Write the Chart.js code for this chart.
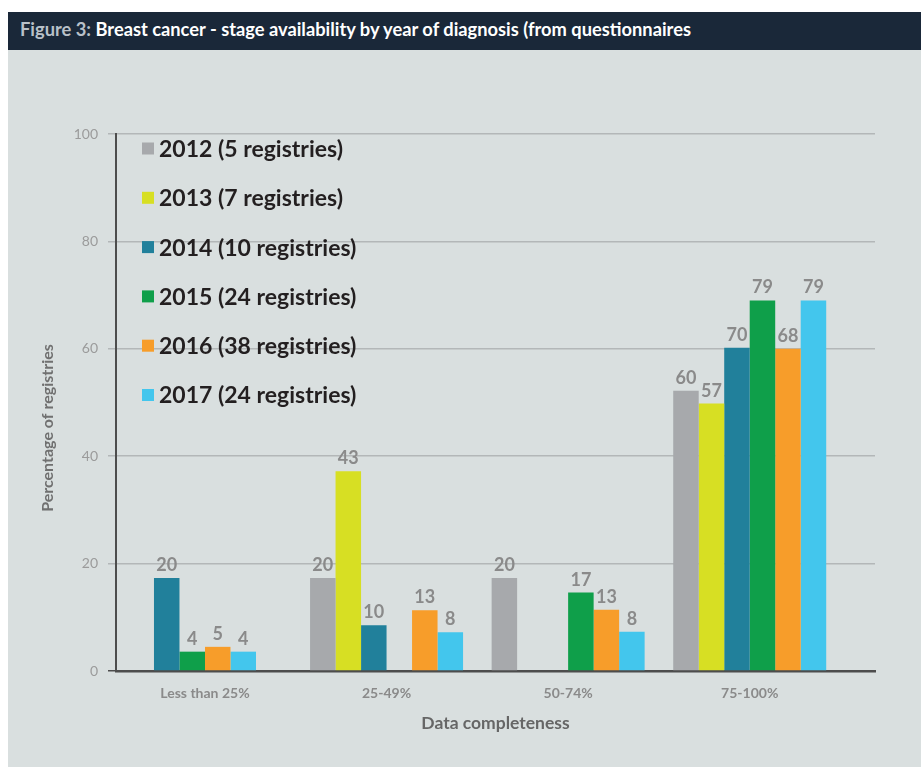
<!DOCTYPE html>
<html>
<head>
<meta charset="utf-8">
<title>Breast cancer - stage availability by year of diagnosis</title>
<script src="https://cdn.jsdelivr.net/npm/chart.js@4.4.1/dist/chart.umd.min.js"></script>
<style>
  body { margin: 0; background: #fff; font-family: Lato, sans-serif; }
  .panel { position: absolute; left: 8px; top: 12px; width: 913px; }
  .head { height: 38px; background: #1a2839; color: #fff; font-weight: bold; font-size: 18.3px; line-height: 34px; padding-left: 12px; white-space: nowrap; overflow: hidden; }
  .head span { color: #b9c1c9; }
  .body { position: relative; height: 717px; background: #d9dfdf; }
</style>
</head>
<body>
<div class="panel">
  <div class="head"><span>Figure 3:</span> Breast cancer - stage availability by year of diagnosis (from questionnaires</div>
  <div class="body"><canvas id="stageChart" width="913" height="717"></canvas></div>
</div>
<script>
const categories = ['Less than 25%', '25-49%', '50-74%', '75-100%'];
const years = ['2012', '2013', '2014', '2015', '2016', '2017'];
const registries = [5, 7, 10, 24, 38, 24];
const colors = ['#a7a9ac', '#d7df23', '#21809b', '#0f9f4a', '#f79d2a', '#43c6ed'];

// bar heights as drawn in the figure (null = no bar, the group closes up)
const bars2012 = [null, 17.3, 17.3, 52.2];
const bars2013 = [null, 37.2, 0, 49.8];
const bars2014 = [17.3, 8.5, 0, 60.2];
const bars2015 = [3.6, 0, 14.6, 69.0];
const bars2016 = [4.5, 11.3, 11.4, 60.0];
const bars2017 = [3.6, 7.2, 7.3, 69.0];

// numbers printed above the bars
const nums2012 = [null, 20, 20, 60];
const nums2013 = [null, 43, null, 57];
const nums2014 = [20, 10, null, 70];
const nums2015 = [4, null, 17, 79];
const nums2016 = [5, 13, 13, 68];
const nums2017 = [4, 8, 8, 79];

const allBars = [bars2012, bars2013, bars2014, bars2015, bars2016, bars2017];
const allNums = [nums2012, nums2013, nums2014, nums2015, nums2016, nums2017];

Chart.defaults.font.family = 'Lato, sans-serif';

// numbers above bars
const barNumbers = {
    id: 'barNumbers',
    afterDatasetsDraw(chart) {
        const ctx = chart.ctx;
        ctx.save();
        ctx.font = 'bold 18px Lato';
        ctx.fillStyle = '#8a8a8a';
        ctx.textAlign = 'center';
        ctx.textBaseline = 'alphabetic';
        chart.data.datasets.forEach((ds, i) => {
            chart.getDatasetMeta(i).data.forEach((bar, j) => {
                const n = allNums[i][j];
                if (n == null) return;
                ctx.fillText(n, bar.x, bar.y - 7);
            });
        });
        ctx.restore();
    }
};

// legend inside the plot, top left
const innerLegend = {
    id: 'innerLegend',
    afterDraw(chart) {
        const { ctx, chartArea } = chart;
        ctx.save();
        ctx.font = 'bold 23px Lato';
        ctx.textBaseline = 'middle';
        chart.data.datasets.forEach((ds, i) => {
            const y = chartArea.top + 14.5 + i * 49.3;
            ctx.fillStyle = ds.backgroundColor;
            ctx.fillRect(chartArea.left + 26, y - 6, 12, 12);
            ctx.fillStyle = '#231f20';
            ctx.fillText(ds.label, chartArea.left + 43, y + 1);
        });
        ctx.restore();
    }
};

// y axis title, sits a bit below the middle of the axis
const yTitle = {
    id: 'yTitle',
    afterDraw(chart) {
        const ctx = chart.ctx;
        ctx.save();
        ctx.translate(40, 378);
        ctx.rotate(-Math.PI / 2);
        ctx.font = 'bold 16px Lato';
        ctx.fillStyle = '#707070';
        ctx.textAlign = 'center';
        ctx.textBaseline = 'middle';
        ctx.fillText('Percentage of registries', 0, 0);
        ctx.restore();
    }
};

new Chart(document.getElementById('stageChart'), {
    type: 'bar',
    data: {
        labels: categories.map((c, i) => i + 1),
        datasets: years.map((y, i) => ({
            label: y + ' (' + registries[i] + ' registries)',
            data: allBars[i],
            backgroundColor: colors[i],
            borderWidth: 0,
            inflateAmount: 0,
            barThickness: 25.5,
            skipNull: true
        }))
    },
    options: {
        responsive: false,
        animation: false,
        layout: { padding: { top: 84, right: 46, left: 0, bottom: 0 } },
        plugins: {
            legend: { display: false },
            tooltip: { enabled: false }
        },
        scales: {
            x: {
                type: 'linear',
                offset: false,
                z: 1,
                min: 0.51,
                max: 4.69,
                afterBuildTicks: (scale) => {
                    scale.ticks = categories.map((c, i) => ({ value: i + 1 }));
                },
                afterFit: (scale) => { scale.height = 96; },
                grid: { display: false, drawTicks: false },
                border: { display: true, color: '#4d4d4d', width: 2.5 },
                ticks: {
                    autoSkip: false,
                    maxRotation: 0,
                    padding: 14,
                    color: '#8a8a8a',
                    font: { size: 14, weight: 'bold' },
                    callback: (v) => categories[v - 1]
                },
                title: {
                    display: true,
                    text: 'Data completeness',
                    color: '#666666',
                    font: { size: 17.5, weight: 'bold' },
                    padding: { top: 0, bottom: 33 }
                }
            },
            y: {
                min: 0,
                max: 100,
                afterFit: (scale) => { scale.width = 108; },
                ticks: {
                    stepSize: 20,
                    padding: 10,
                    color: '#9b9b9b',
                    font: { size: 14 }
                },
                grid: {
                    color: (c) => c.tick && c.tick.value === 0 ? '#4d4d4d' : '#b3b7b8',
                    lineWidth: 1.5,
                    tickLength: 8
                },
                border: { display: true, color: '#4d4d4d', width: 2 }
            }
        }
    },
    plugins: [barNumbers, innerLegend, yTitle]
});
</script>
</body>
</html>
